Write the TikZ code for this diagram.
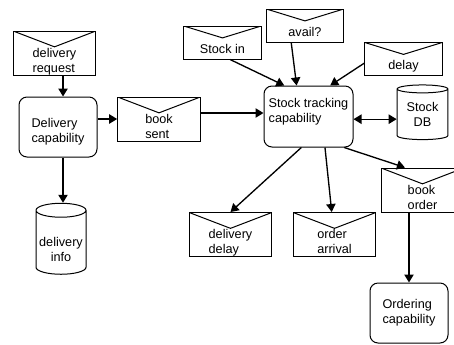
\documentclass[tikz,border=0pt]{standalone}
\usepackage{fontspec}
\setmainfont{Liberation Sans}
\usetikzlibrary{arrows.meta,shapes.geometric,calc}
\tikzstyle{envelope}=[draw,line width=0.75pt,rectangle,minimum width=62pt,minimum height=33pt,inner sep=0pt,align=left,text height=31pt,text depth=1.8pt,
  path picture={\draw[line width=0.75pt] (path picture bounding box.north west) -- ($(path picture bounding box.north)!0.36!(path picture bounding box.south)$) -- (path picture bounding box.north east);}]
\tikzstyle{smallenvelope}=[envelope,minimum width=58pt,minimum height=24.75pt,text height=18.4pt,text depth=2pt]
\tikzstyle{capability}=[draw,line width=0.75pt,rounded corners=6pt,minimum width=58.5pt,minimum height=45pt,inner sep=0pt,align=left]
\tikzstyle{store}=[draw,line width=0.75pt,cylinder,shape border rotate=90,aspect=0.25,minimum width=38pt,minimum height=41pt,inner sep=0pt,align=center]
\tikzstyle{edge} = [draw,line width=1pt,-{Triangle[length=6pt,width=7pt]}]

\begin{document}
\begin{tikzpicture}[x=0.75pt,y=-0.75pt,every node/.style={font=\fontsize{9.5pt}{11.25pt}\selectfont}]
    \useasboundingbox (0,0) rectangle (454,344);
    \clip (0,0) rectangle (454,344);
    % First the messages, drawn as envelopes
    \foreach \pos/\name/\txt in {{(54.5,53)/req/{delivery\\request}}, {(159,119)/booksent/{book\\sent}},
                                 {(230.5,234.5)/deldelay/{delivery\\delay}}, {(334.5,234.5)/orderarr/{order\\arrival}},
                                 {(422.5,190)/bookorder/{book\\order}}}
        \node[envelope] (\name) at \pos {\txt};
    \foreach \pos/\name/\txt in {{(222.5,42.5)/stockin/Stock in}, {(305,25.5)/avail/avail?}, {(403.5,59)/delay/delay}}
        \node[smallenvelope] (\name) at \pos {\txt};
    % Then the capabilities and the stores
    \node[capability,text height=25.6pt,text depth=2pt] (delcap) at (58,127) {Delivery\\capability};
    \node[capability,minimum width=66.75pt,minimum height=45.75pt,text height=18.2pt,text depth=8.8pt] (stock) at (308.5,116.5) {Stock tracking\\capability};
    \node[capability] (ordering) at (409,313) {Ordering\\capability};
    \node[store] (db) at (422.5,114.5) {Stock\\DB};
    \node[store,aspect=0.32,minimum width=37.5pt,minimum height=53.25pt,text height=28.6pt,text depth=0pt] (delinfo) at (61,242.5) {delivery\\info};
    % Connect them
    \path[edge] ([xshift=6.4pt]req.south) -- ([xshift=6.4pt]req.south |- delcap.north);
    \path[edge] ([xshift=3.75pt]delcap.south) -- ([xshift=3.75pt]delcap.south |- delinfo.north);
    \path[edge] (delcap.east |- booksent.west) -- (booksent.west);
    \path[edge] ([yshift=4.5pt]booksent.east) -- ([yshift=4.5pt]booksent.east -| stock.west);
    \path[edge,{Triangle[length=6pt,width=7pt]}-{Triangle[length=6pt,width=7pt]}] ([yshift=-2pt]stock.east) -- ([yshift=-2pt]stock.east -| db.west);
    \foreach \source/\dest in {stockin.-66/stock.128, avail.-129/stock.111, delay.-174/stock.55,
                               stock.-103/deldelay.north, stock.-62/orderarr.97, stock.-41/bookorder.128}
        \path[edge] (\source) -- (\dest);
    \path[edge] (ordering.north |- bookorder.south) -- (ordering.north);
\end{tikzpicture}
\end{document}
